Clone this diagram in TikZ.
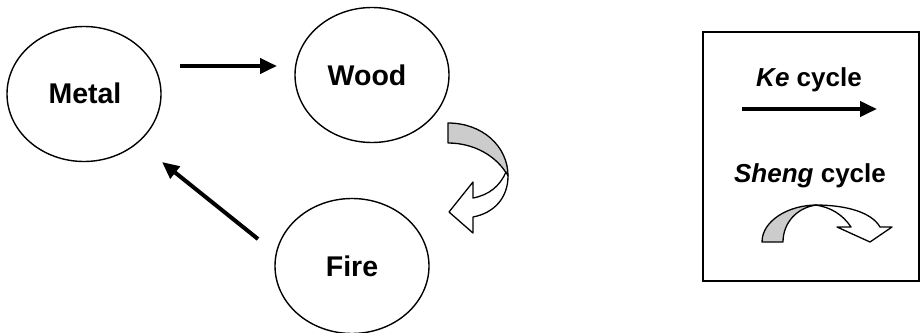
\documentclass[tikz,border=0pt]{standalone}
\usepackage{fontspec}
\setmainfont{Liberation Sans}
\usetikzlibrary{shapes.geometric,arrows.meta}
\begin{document}
\begin{tikzpicture}[x=1pt,y=-1pt,
  element/.style={ellipse,draw,line width=1.4pt,minimum width=154pt,minimum height=135pt,inner sep=0pt},
  eltext/.style={font=\fontsize{28.5}{30}\selectfont\bfseries,anchor=base},
  legtext/.style={font=\fontsize{26}{28}\selectfont\bfseries,anchor=base},
  kearrow/.style={line width=4pt,-{Triangle[length=17pt,width=15pt]}},
  ribbon/.style={draw,line width=1.3pt,line join=round},
  back/.style={ribbon,fill=gray!40},
  front/.style={ribbon,fill=white}]
\useasboundingbox (0,0) rectangle (921,332);

% five-element nodes
\node[element] (metal) at (84,94) {};
\node[element] (wood)  at (372,75) {};
\node[element] (fire)  at (352,266) {};
\node[eltext] (metallbl) at (85,103) {Metal};
\node[eltext] (woodlbl)  at (367,85) {Wood};
\node[eltext] (firelbl)  at (352,276) {Fire};

% Ke cycle connectors
\coordinate (mwA) at (180,66);
\coordinate (mwB) at (277,66);
\coordinate (fmA) at (258,239);
\coordinate (fmB) at (162,162);
\draw[kearrow] (mwA) -- (mwB);
\draw[kearrow] (fmA) -- (fmB);

% Sheng cycle ribbon arrow from Wood to Fire
\path[back] (448,123) .. controls (482,123) and (508,146) .. (508,176)
  .. controls (497,156) and (474,143) .. (448,143) -- cycle;
\path[front] (506,172) .. controls (500,186) and (489,195) .. (473,198)
  -- (473,182) -- (449,212) -- (473,233) -- (473,217)
  .. controls (494,213) and (508,198) .. (508,176) -- cycle;

% legend
\node[draw,line width=1.4pt,minimum width=216pt,minimum height=249pt,inner sep=0pt] (legend) at (811,156.5) {};
\node[legtext] (kelbl) at (809,86) {\textit{Ke} cycle};
\coordinate (keA) at (742,109);
\coordinate (keB) at (877,109);
\draw[kearrow] (keA) -- (keB);
\node[legtext] (shenglbl) at (810,182) {\textit{Sheng} cycle};
\path[back] (762,242) .. controls (762,221) and (788,205) .. (817,205)
  .. controls (798,207) and (783,222) .. (783,242) -- cycle;
\path[front] (815,205) .. controls (848,205) and (872,213) .. (880,227)
  -- (892,227) -- (870,242) -- (837,227) -- (851,227)
  .. controls (843,215) and (831,207) .. (815,205) -- cycle;
\end{tikzpicture}
\end{document}
